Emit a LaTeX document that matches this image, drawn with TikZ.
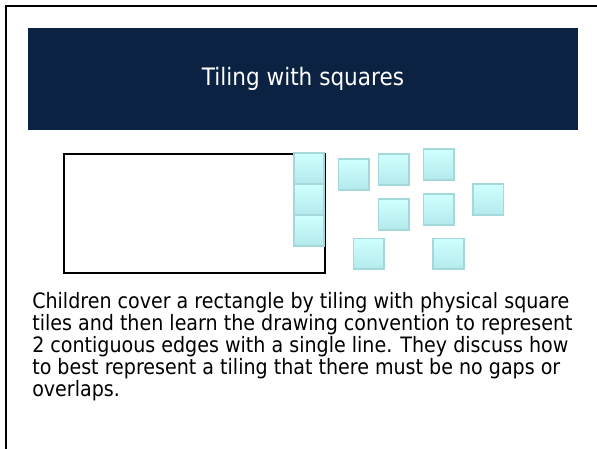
\documentclass[tikz,border=0pt]{standalone}
\usepackage{fontspec}
\setmainfont{DejaVu Sans Condensed}
\definecolor{barblue}{HTML}{0B2242}
\definecolor{tiletop}{HTML}{D0FFFF}
\definecolor{tilebot}{HTML}{B4EAEC}
\definecolor{tileedge}{HTML}{A4D8DA}

\begin{document}
\begin{tikzpicture}[x=0.75pt,y=-0.75pt,
  bar/.style={rectangle,fill=barblue,text=white,minimum width=412.5pt,minimum height=76.5pt,font=\fontsize{18}{20}\selectfont},
  tile/.style={rectangle,draw=tileedge,line width=1.3pt,top color=tiletop,bottom color=tilebot,minimum size=23pt,inner sep=0pt},
  desc/.style={anchor=north west,align=left,inner sep=0pt,font=\fontsize{15.9}{16.6}\selectfont}]
\useasboundingbox (0,0) rectangle (597,449);

% frame, open at the bottom and right
\draw[line width=1.6pt] (6,449) -- (6,6) -- (597,6);

\node[bar] (title) at (303,79) {Tiling with squares};

% rectangle to be covered
\draw[line width=1.5pt] (64,154) rectangle (325,273);

% loose tiles
\node[tile] (T1) at (309,168.5) {};
\node[tile] (T2) at (309,199.5) {};
\node[tile] (T3) at (309,230.5) {};
\node[tile] (T4) at (353.7,174.5) {};
\node[tile] (T5) at (393.7,169.5) {};
\node[tile] (T6) at (438.7,164.5) {};
\node[tile] (T7) at (488.2,199.5) {};
\node[tile] (T8) at (393.7,214.5) {};
\node[tile] (T9) at (438.7,209.5) {};
\node[tile] (T10) at (368.7,253.8) {};
\node[tile] (T11) at (448.3,253.8) {};

\node[desc] (text) at (32,292) {Children cover a rectangle by tiling with physical square\\
tiles and then learn the drawing convention to represent\\
2 contiguous edges with a single line. They discuss how\\
to best represent a tiling that there must be no gaps or\\
overlaps.};
\end{tikzpicture}
\end{document}
